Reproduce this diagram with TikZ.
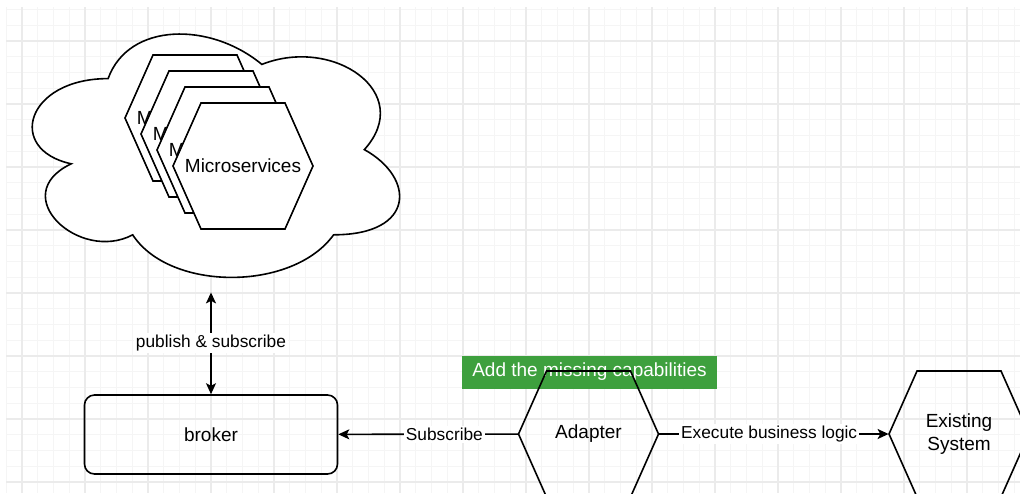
\documentclass[tikz,border=0pt]{standalone}
\usepackage{fontspec}
\setmainfont{Liberation Sans}
\usepackage{tikz}
\usetikzlibrary{shapes,arrows.meta,positioning,calc}

\definecolor{tagGreen}{RGB}{62,160,62}

% hexagon outline first, then its (named) text node on top
\newcommand{\hexat}[4][hexline]{%
  \draw[#1] ($(#3)+(-70,0)$) -- ++(28,-63) -- ++(84,0) -- ++(28,63)
    -- ++(-28,63) -- ++(-84,0) -- cycle;
  \node[hexnode] (#2) at (#3) {#4};
}

\begin{document}
\begin{tikzpicture}[
    x=0.5pt, y=-0.5pt,
    font=\fontsize{9.5}{11.5}\selectfont,
    minorgrid/.style={draw=gray!8, line width=0.6pt},
    majorgrid/.style={draw=gray!16, line width=0.7pt},
    hexline/.style={draw, line width=0.8pt},
    mshex/.style={hexline, fill=white},
    hexnode/.style={minimum width=70pt, minimum height=63pt, inner sep=0pt, text centered, align=center},
    cloudbox/.style={minimum width=205pt, minimum height=142pt, inner sep=0pt},
    cloudline/.style={draw, fill=white, line width=0.8pt},
    box/.style={rectangle, draw, rounded corners=5pt, line width=0.8pt, minimum width=126.5pt, minimum height=39.5pt},
    tag/.style={rectangle, fill=tagGreen, text=white, minimum width=127.5pt, minimum height=16.5pt, inner sep=0pt},
    lbl/.style={fill=white, inner sep=1pt, font=\fontsize{8.65}{10.5}\selectfont},
    arrow/.style={->, >={Stealth[length=5.5pt, width=5pt, inset=1.3pt]}, line width=0.8pt},
    biarrow/.style={<->, >={Stealth[length=5.5pt, width=5pt, inset=1.3pt]}, line width=0.8pt}
]
    \useasboundingbox (0,0) rectangle (1020,493);
    \clip (0,0) rectangle (1020,493);

    % grid
    \foreach \i in {0,...,64} \draw[minorgrid] (6.25+15.75*\i,7) -- (6.25+15.75*\i,493);
    \foreach \i in {0,...,31} \draw[minorgrid] (6,9.5+15.75*\i) -- (1020,9.5+15.75*\i);
    \foreach \i in {0,...,15} \draw[majorgrid] (22+63*\i,7) -- (22+63*\i,493);
    \foreach \i in {0,...,7} \draw[majorgrid] (6,41+63*\i) -- (1020,41+63*\i);

    % cloud
    \node[cloudbox] (cloud) at (211,150) {};
    \begin{scope}[shift={(cloud.north west)}, x=205pt, y=-142pt]
        \filldraw[cloudline] (0.25,0.25) .. controls (0.05,0.25) and (0,0.5) .. (0.16,0.55)
            .. controls (0,0.66) and (0.18,0.9) .. (0.31,0.8)
            .. controls (0.4,1) and (0.7,1) .. (0.8,0.8)
            .. controls (1,0.8) and (1,0.6) .. (0.875,0.5)
            .. controls (1,0.3) and (0.8,0.1) .. (0.625,0.2)
            .. controls (0.5,0.05) and (0.3,0.05) .. (0.25,0.25) -- cycle;
    \end{scope}

    \hexat[mshex]{ms1}{195,118}{Microservices}
    \hexat[mshex]{ms2}{211,134}{Microservices}
    \hexat[mshex]{ms3}{227,150}{Microservices}
    \hexat[mshex]{ms4}{243,166}{Microservices}

    \node[box] (broker) at (211,434.5) {broker};

    \node[tag] (missing) at (589.5,372) {Add the missing capabilities};
    \hexat{adapter}{588.5,434}{Adapter}
    \hexat{existing}{959,434}{Existing\\System}

    \draw[biarrow] (broker) -- (cloud) node[lbl, midway] {publish \& subscribe};
    \draw[arrow] (adapter) -- (broker) node[lbl, pos=0.41] {Subscribe};
    \draw[arrow] (adapter) -- (existing) node[lbl, pos=0.48] {Execute business logic};
\end{tikzpicture}
\end{document}
